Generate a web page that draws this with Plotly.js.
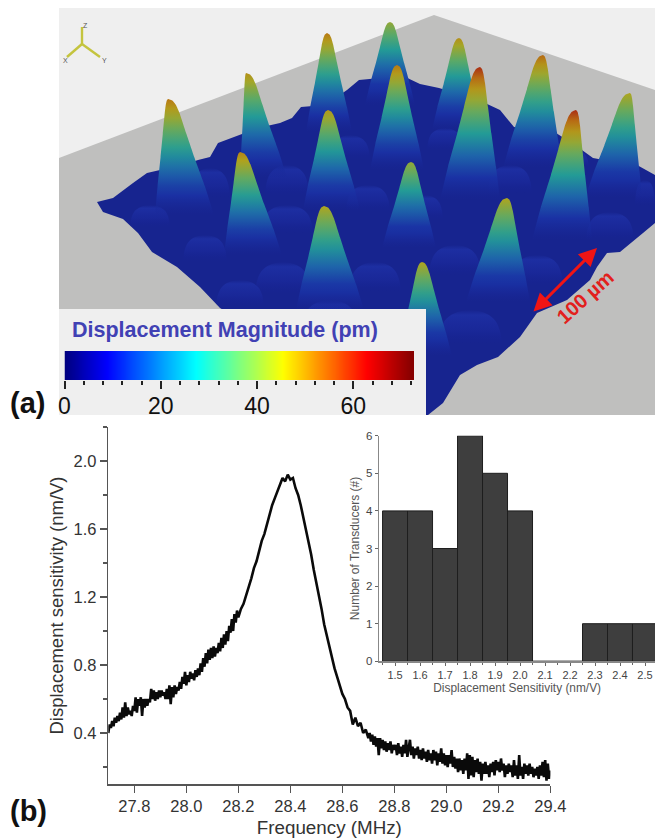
<!DOCTYPE html>
<html><head><meta charset="utf-8">
<script src="https://cdn.plot.ly/plotly-3.0.1.min.js"></script>
<style>html,body{margin:0;padding:0;background:#fff}#c{width:655px;height:840px}</style></head>
<body><div id="c"></div>
<script>
// ---- panel (a): picture-space readings of the rendered surface
const planeX=[59,434,655,655,59], planeY=[158,15,90,415,415];
const surfX=[97,113,133,147,160,180,198,210,218,237,258,280,292,301,325,347,359,380,401,420,439,462,485,500,514,535,556,575,593,620,637,655,655,643,620,607,597,590,567,537,520,498,477,460,443,428,400,220,200,177,152,138,123,103];
const surfY=[202,198,183,173,170,166,160,157,143,136,128,123,118,107,105,90,80,78,75,84,88,95,103,110,127,130,133,145,158,163,165,175,223,233,252,253,267,280,300,313,337,357,365,375,403,415,415,308,287,267,252,233,219,212];
const bumpX=[150,210,205,287,287,283,368,375,350,445,510,455,537,610,645,470,575,425,240,330,400];
const bumpY=[205,168,235,165,205,262,185,262,135,128,165,245,255,212,180,310,150,195,280,300,330];
const bumpHalf=[20,20,22,22,26,28,22,26,20,18,22,26,26,24,10,32,14,18,24,28,28];
const bumpHeight=[22,30,26,30,28,32,26,30,24,22,28,30,30,28,26,34,18,24,26,30,34];
const peakApexX=[390,459,327,543,246,397,630,480,168,328,576,411,240,507,324,422];
const peakApexY=[22,38,33,55,73,65,93,67,99,110,110,162,152,198,206,262];
const peakLeftX=[365,432,306,503,240,370,585,440,155,303,532,382,224,466,296,398];
const peakRightX=[415,482,352,562,287,424,642,500,214,360,592,436,282,530,364,452];
const peakBaseY=[105,130,132,168,178,170,198,200,215,210,240,248,255,302,310,356];
const peakLevel=[.75,.85,.9,.92,.85,.9,.8,1,.9,.83,1,.75,.88,.8,.8,.8];
const peakDepth=[0,.015,.05,.12,.3,.5,.75,1];
const peakWidth=[0,.1,.17,.25,.4,.57,.8,1];
const domeDepth=[0,.1,.3,.6,1];
const domeWidth=[0,.5,.78,.93,1];
const surfLevels=[0,.18,.35,.5,.65,.8,.9,1];
const surfColors=[[24,38,150],[26,50,165],[30,105,170],[35,155,150],[95,170,100],[175,165,30],[185,120,20],[170,45,20]];
// colour bar
const barValues=[0,2,4,6,8,10,12,14,16,18,20,22,24,26,28,30,32,34,36,38,40,42,44,46,48,50,52,54,56,58,60,62,64,66,68,70,72];
const jetScale=[[0,'#00007f'],[.12,'#0000ff'],[.375,'#00ffff'],[.625,'#ffff00'],[.865,'#ff0000'],[1,'#7f0000']];
const barTicks=[0,20,40,60];
// ---- panel (b): resonance curve
const freqHead=[27.700,27.705,27.710,27.715,27.720,27.725,27.730,27.735,27.740,27.745,27.750,27.755,27.760,27.765,27.770,27.775,27.780,27.785,27.790,27.795,27.800,27.805,27.810,27.815,27.820,27.825,27.830,27.835,27.840,27.845,27.850,27.855,27.860,27.865,27.870,27.875,27.880,27.885,27.890,27.895,27.900,27.905,27.910,27.915,27.920,27.925,27.930,27.935,27.940,27.945,27.950,27.955,27.960,27.965,27.970,27.975,27.980,27.985,27.990,27.995,28.000,28.005,28.010,28.015,28.020,28.025,28.030,28.035,28.040,28.045,28.050,28.055,28.060,28.065,28.070,28.075,28.080,28.085,28.090,28.095,28.100,28.105,28.110,28.115,28.120,28.125,28.130,28.135,28.140,28.145,28.150,28.155,28.160,28.165,28.170,28.175,28.180,28.185,28.190,28.195,28.200];
const sensHead=[.40,.45,.43,.47,.44,.49,.46,.50,.47,.52,.48,.55,.49,.58,.50,.55,.51,.53,.50,.56,.53,.61,.52,.60,.56,.61,.50,.60,.55,.60,.56,.60,.58,.66,.60,.65,.59,.64,.60,.65,.61,.65,.62,.64,.60,.66,.60,.68,.57,.67,.61,.68,.63,.67,.65,.70,.66,.73,.69,.76,.68,.74,.70,.76,.72,.75,.71,.77,.73,.78,.74,.81,.76,.84,.79,.87,.81,.89,.83,.90,.84,.91,.85,.90,.87,.93,.88,.96,.90,.98,.92,1.00,.94,1.03,.99,1.07,1.00,1.10,1.05,1.12,1.08];
const freqMid=[28.21,28.22,28.23,28.24,28.25,28.26,28.27,28.28,28.29,28.30,28.31,28.32,28.33,28.34,28.35,28.36,28.37,28.38,28.39,28.40,28.41,28.42,28.43,28.44,28.45,28.46,28.47,28.48,28.49,28.50,28.51,28.52,28.53,28.54,28.55,28.56,28.57,28.58,28.59,28.60,28.61,28.62,28.63,28.64,28.65,28.66,28.67,28.68,28.69,28.70];
const sensMid=[1.13,1.16,1.21,1.25,1.31,1.37,1.41,1.47,1.53,1.57,1.63,1.68,1.74,1.78,1.82,1.86,1.90,1.88,1.92,1.89,1.90,1.84,1.80,1.74,1.67,1.60,1.53,1.45,1.36,1.29,1.20,1.13,1.04,.97,.90,.84,.78,.73,.68,.63,.60,.55,.53,.45,.49,.44,.46,.40,.42,.37];
const freqTail=[28.705,28.710,28.715,28.720,28.725,28.730,28.735,28.740,28.745,28.750,28.755,28.760,28.765,28.770,28.775,28.780,28.785,28.790,28.795,28.800,28.805,28.810,28.815,28.820,28.825,28.830,28.835,28.840,28.845,28.850,28.855,28.860,28.865,28.870,28.875,28.880,28.885,28.890,28.895,28.900,28.905,28.910,28.915,28.920,28.925,28.930,28.935,28.940,28.945,28.950,28.955,28.960,28.965,28.970,28.975,28.980,28.985,28.990,28.995,29.000,29.005,29.010,29.015,29.020,29.025,29.030,29.035,29.040,29.045,29.050,29.055,29.060,29.065,29.070,29.075,29.080,29.085,29.090,29.095,29.100,29.105,29.110,29.115,29.120,29.125,29.130,29.135,29.140,29.145,29.150,29.155,29.160,29.165,29.170,29.175,29.180,29.185,29.190,29.195,29.200,29.205,29.210,29.215,29.220,29.225,29.230,29.235,29.240,29.245,29.250,29.255,29.260,29.265,29.270,29.275,29.280,29.285,29.290,29.295,29.300,29.305,29.310,29.315,29.320,29.325,29.330,29.335,29.340,29.345,29.350,29.355,29.360,29.365,29.370,29.375,29.380,29.385,29.390,29.395,29.400];
const sensTail=[.40,.35,.39,.33,.38,.32,.37,.27,.37,.31,.36,.30,.35,.29,.34,.30,.35,.28,.33,.30,.33,.27,.34,.28,.32,.26,.33,.28,.36,.26,.31,.36,.27,.32,.25,.31,.27,.32,.25,.30,.24,.31,.25,.29,.23,.30,.24,.28,.22,.30,.24,.29,.21,.28,.23,.31,.22,.28,.21,.27,.20,.27,.22,.30,.20,.26,.19,.25,.17,.25,.18,.24,.16,.25,.18,.28,.13,.27,.15,.26,.14,.24,.17,.25,.16,.23,.12,.22,.16,.23,.16,.21,.14,.22,.17,.23,.15,.24,.18,.23,.17,.25,.18,.22,.14,.21,.16,.22,.17,.21,.14,.24,.15,.21,.13,.27,.15,.20,.13,.22,.16,.21,.15,.22,.16,.20,.14,.19,.15,.20,.13,.21,.15,.23,.14,.24,.12,.22,.13,.18];
const freqTicks=[27.8,28.0,28.2,28.4,28.6,28.8,29.0,29.2,29.4];
const sensTicks=[0.4,0.8,1.2,1.6,2.0];
// ---- inset histogram
const sensBins=[1.5,1.6,1.7,1.8,1.9,2.0,2.1,2.2,2.3,2.4,2.5];
const transducerCount=[4,4,3,6,5,4,0,0,1,1,1];

const W=655,H=840;
function lerp(a,b,t){return a+(b-a)*t}
function surfRGB(v){let i=0;while(i<surfLevels.length-2&&v>surfLevels[i+1])i++;
  const t=Math.max(0,Math.min(1,(v-surfLevels[i])/(surfLevels[i+1]-surfLevels[i])));
  return surfColors[i].map((a,k)=>Math.round(lerp(a,surfColors[i+1][k],t)));}
function outline(ax,ay,lx,rx,by,depth,width){
  const xs=[],ys=[],n=depth.length;
  for(let k=n-1;k>=0;k--){xs.push(ax+width[k]*(lx-ax));ys.push(ay+depth[k]*(by-ay))}
  for(let k=1;k<n;k++){xs.push(ax+width[k]*(rx-ax));ys.push(ay+depth[k]*(by-ay))}
  return [xs,ys];
}
function peakTrace(i){
  const ay=peakApexY[i],by=peakBaseY[i];
  const [xs,ys]=outline(peakApexX[i],ay,peakLeftX[i],peakRightX[i],by,peakDepth,peakWidth);
  const scale=[];for(let s=0;s<=12;s++){const p=s/12;const a=p>.85?(1-p)/.15:1;scale.push([p,`rgba(${surfRGB(peakLevel[i]*(1-p))},${a.toFixed(2)})`])}
  return {type:'scatter',mode:'lines',x:xs,y:ys,xaxis:'x',yaxis:'y',line:{width:0,shape:'spline',smoothing:.35},fill:'toself',
    fillgradient:{type:'vertical',colorscale:scale,start:ay,stop:by},hoverinfo:'skip',showlegend:false};
}
function bumpTrace(i){
  const ay=bumpY[i],by=ay+bumpHeight[i];
  const [xs,ys]=outline(bumpX[i],ay,bumpX[i]-bumpHalf[i],bumpX[i]+bumpHalf[i],by,domeDepth,domeWidth);
  return {type:'scatter',mode:'lines',x:xs,y:ys,xaxis:'x',yaxis:'y',line:{width:0,shape:'spline',smoothing:1},fill:'toself',
    fillgradient:{type:'vertical',colorscale:[[0,'rgba(30,48,165,0)'],[.15,'rgba(30,48,165,.85)'],[.6,'rgba(27,42,158,.6)'],[1,'rgba(22,34,150,0)']],start:ay,stop:by},hoverinfo:'skip',showlegend:false};
}
const poly=(x,y,c)=>({type:'scatter',mode:'lines',x,y,xaxis:'x',yaxis:'y',line:{width:0},fill:'toself',fillcolor:c,hoverinfo:'skip',showlegend:false});
const traces=[
  poly([59,655,655,59],[8,8,415,415],'#efefef'),
  poly(planeX,planeY,'#bfbfbe'),
  poly(surfX,surfY,'#17248f'),
];
bumpX.forEach((_,i)=>traces.push(bumpTrace(i)));
peakApexX.forEach((_,i)=>traces.push(peakTrace(i)));
// triad
traces.push({type:'scatter',mode:'lines',x:[82,82,null,82,67,null,82,100],y:[44,27,null,44,57,null,44,57],xaxis:'x',yaxis:'y',line:{color:'#c4c43e',width:2.4},hoverinfo:'skip',showlegend:false});
traces.push(poly([59,426,426,59],[309,309,415,415],'#efefef'));
// colour bar
traces.push({type:'heatmap',x:barValues,y:[0,1],z:[barValues,barValues],xaxis:'x2',yaxis:'y2',colorscale:jetScale,zmin:0,zmax:72.6,zsmooth:'best',showscale:false,hoverinfo:'skip'});
// curve
traces.push({type:'scatter',mode:'lines',x:freqHead.concat(freqMid,freqTail),y:sensHead.concat(sensMid,sensTail),xaxis:'x3',yaxis:'y3',line:{color:'#0a0a0a',width:2.6},showlegend:false});
// histogram
traces.push({type:'bar',x:sensBins,y:transducerCount,width:.1,xaxis:'x4',yaxis:'y4',marker:{color:'#3e3e3e',line:{color:'#1e1e1e',width:1}},showlegend:false});

const px=v=>v/W, py=v=>1-v/H;
const sans='"Liberation Sans",Arial,sans-serif';
const note=(x,y,text,size,color,extra)=>Object.assign({x,y,xref:'x',yref:'y',text,showarrow:false,font:{family:sans,size,color},xanchor:'center',yanchor:'middle'},extra||{});
const layout={
  width:W,height:H,margin:{l:0,r:0,t:0,b:0},paper_bgcolor:'#fff',plot_bgcolor:'rgba(0,0,0,0)',showlegend:false,
  xaxis:{domain:[0,1],range:[0,W],visible:false,fixedrange:true},
  yaxis:{domain:[0,1],range:[H,0],visible:false,fixedrange:true},
  xaxis2:{domain:[px(64.5),px(414)],range:[0,72.6],anchor:'y2',tickmode:'array',tickvals:barTicks,ticks:'outside',ticklen:8,tickwidth:2,tickcolor:'#222',
    minor:{dtick:4,tick0:0,ticks:'outside',ticklen:4,tickwidth:2,tickcolor:'#222'},ticklabelstandoff:-3,
    tickfont:{family:sans,size:23,color:'#111'},showgrid:false,zeroline:false,showline:false},
  yaxis2:{domain:[py(380),py(351)],range:[0,1],anchor:'x2',visible:false},
  xaxis3:{domain:[px(108.3),px(550.4)],range:[27.7,29.4],anchor:'y3',tickmode:'array',tickvals:freqTicks,ticktext:freqTicks.map(v=>v.toFixed(1)),ticks:'outside',ticklen:7,tickwidth:1.3,tickcolor:'#555',
    showline:true,linecolor:'#555',linewidth:1.5,showgrid:false,zeroline:false,tickfont:{family:sans,size:16.5,color:'#333'},
    title:{text:'Frequency (MHz)',font:{family:sans,size:18.8,color:'#333'},standoff:6}},
  yaxis3:{domain:[py(784),py(427)],range:[0.1,2.2],anchor:'x3',tickmode:'array',tickvals:sensTicks,ticktext:sensTicks.map(v=>v.toFixed(1)),ticks:'outside',ticklen:7,tickwidth:1.3,tickcolor:'#555',
    minor:{tickvals:[0.2,0.6,1.0,1.4,1.8,2.2],ticks:'outside',ticklen:4,tickwidth:1.2,tickcolor:'#555'},
    showline:true,linecolor:'#555',linewidth:1.5,showgrid:false,zeroline:false,tickfont:{family:sans,size:16.5,color:'#333'},
    title:{text:'Displacement sensitivity (nm/V)',font:{family:sans,size:18.5,color:'#333'},standoff:5}},
  xaxis4:{domain:[px(379.3),1],range:[1.437,2.54],anchor:'y4',tickmode:'array',tickvals:sensBins,ticktext:sensBins.map(v=>v.toFixed(1)),ticks:'outside',ticklen:3,tickwidth:1,tickcolor:'#666',
    minor:{dtick:.1,tick0:1.45,ticks:'outside',ticklen:2,tickcolor:'#666'},
    showline:true,linecolor:'#888',linewidth:1.5,showgrid:false,zeroline:false,tickfont:{family:sans,size:11,color:'#444'},
    title:{text:'Displacement Sensitivity (nm/V)',font:{family:sans,size:11.9,color:'#555'},standoff:2}},
  yaxis4:{domain:[py(661.3),py(435.7)],range:[0,6],anchor:'x4',dtick:1,ticks:'outside',ticklen:3,tickwidth:1,tickcolor:'#666',
    showline:true,linecolor:'#888',linewidth:1.5,showgrid:false,zeroline:false,tickfont:{family:sans,size:11.5,color:'#444'},
    title:{text:'Number of Transducers (#)',font:{family:sans,size:12,color:'#555'},standoff:4}},
  annotations:[
    note(225,330,'<b>Displacement Magnitude (pm)</b>',21.5,'#4141b4'),
    note(27,403,'<b>(a)</b>',29,'#111'),
    note(28,811,'<b>(b)</b>',29,'#111'),
    note(585,297,'<b>100 µm</b>',20,'#e2201c',{textangle:-42}),
    note(85,25,'Z',7,'#555'),note(65,60,'X',7,'#555'),note(104,60,'Y',7,'#555'),
    {x:597,y:248,ax:532,ay:313,xref:'x',yref:'y',axref:'x',ayref:'y',text:'',showarrow:true,arrowside:'end+start',arrowhead:2,startarrowhead:2,arrowsize:1.2,startarrowsize:1.2,arrowwidth:3,arrowcolor:'#f01414'}
  ]
};
Plotly.newPlot('c',traces,layout,{staticPlot:true,displayModeBar:false});
</script></body></html>
